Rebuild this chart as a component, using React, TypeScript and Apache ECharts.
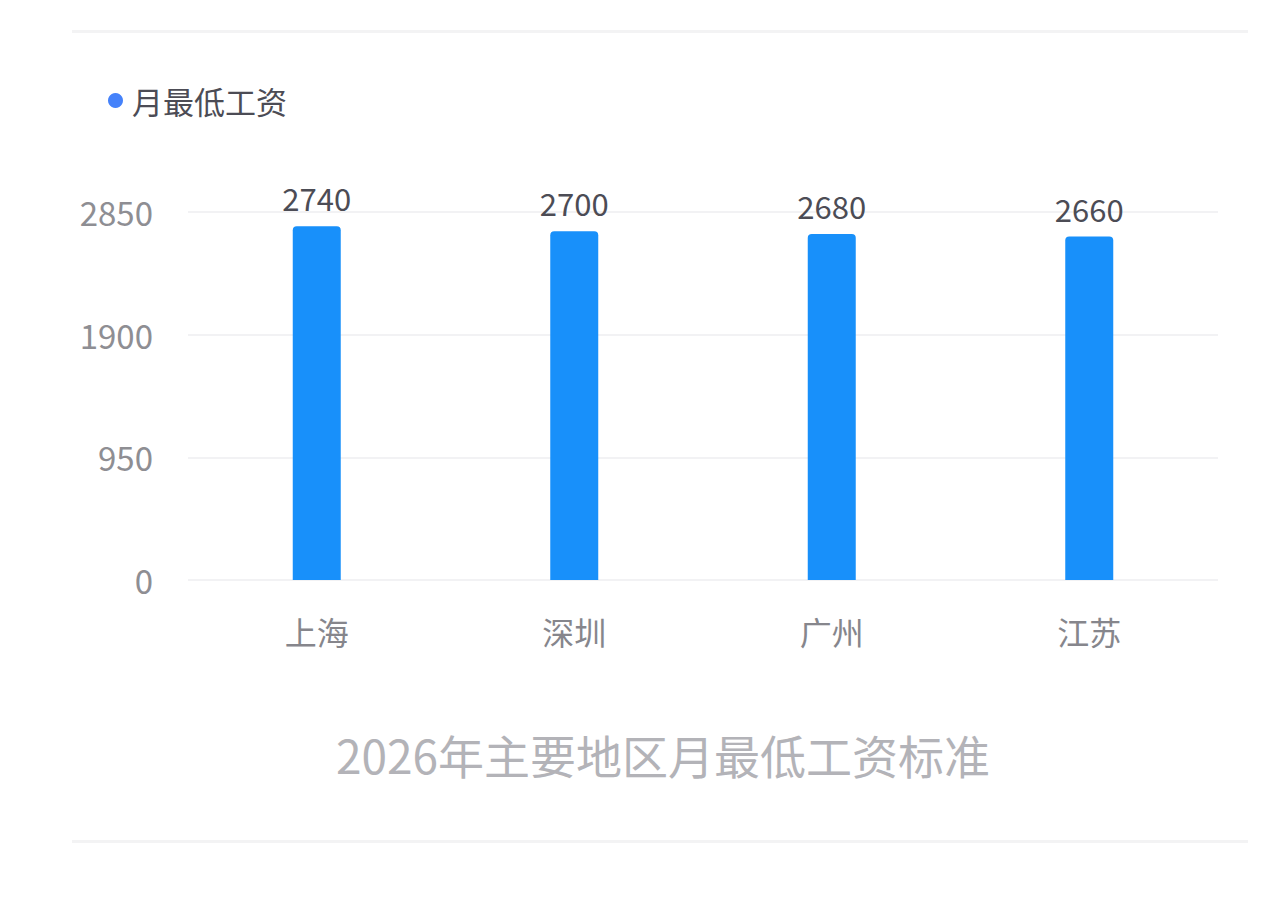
import React, {useRef, useEffect} from 'react';
import * as echarts from 'echarts';

const regions = ['上海', '深圳', '广州', '江苏'];
const wages = [2740, 2700, 2680, 2660];
const seriesName = '月最低工资';
const chartTitle = '2026年主要地区月最低工资标准';
const yMax = 2850;
const yStep = 950;

const FONT = '"Noto Sans CJK SC", "Noto Sans", sans-serif';

const App = () => {
    const ref = useRef<HTMLDivElement>(null);

    useEffect(() => {
        const chart = echarts.init(ref.current as HTMLDivElement, undefined, {renderer: 'svg'});
        chart.setOption({
            animation: false,
            textStyle: {fontFamily: FONT},
            title: {
                text: chartTitle,
                left: 331,
                top: 726,
                textStyle: {fontSize: 46, fontWeight: 'normal', color: '#b3b3b8', fontFamily: FONT}
            },
            legend: {
                left: 103,
                top: 80,
                icon: 'circle',
                itemWidth: 15,
                itemHeight: 15,
                textStyle: {fontSize: 31, color: '#4c4c55', padding: [0, 0, 0, 4]},
                data: [{name: seriesName, itemStyle: {color: '#4582fa'}}]
            },
            grid: {left: 188, right: 61, top: 212, bottom: 325, containLabel: false},
            xAxis: {
                type: 'category',
                data: regions,
                axisLine: {show: false},
                axisTick: {show: false},
                axisLabel: {fontSize: 32, color: '#86868c', margin: 35}
            },
            yAxis: {
                type: 'value',
                min: 0,
                max: yMax,
                interval: yStep,
                axisLine: {show: false},
                axisTick: {show: false},
                axisLabel: {
                    fontSize: 33,
                    color: '#8e8e93',
                    margin: 35,
                    padding: [0, 0, 10, 0],
                    formatter: (v: number) => String(v)
                },
                splitLine: {lineStyle: {color: '#f2f2f4', width: 2}}
            },
            series: [
                {
                    name: seriesName,
                    type: 'bar',
                    data: wages,
                    barWidth: 48,
                    itemStyle: {color: '#1890fa', borderRadius: [4, 4, 0, 0]},
                    label: {
                        show: true,
                        position: 'top',
                        distance: 13,
                        fontSize: 31,
                        color: '#4c4c55'
                    }
                }
            ],
            graphic: [
                {type: 'rect', shape: {x: 72, y: 30, width: 1176, height: 3}, style: {fill: '#f3f3f4'}},
                {type: 'rect', shape: {x: 72, y: 840, width: 1176, height: 3}, style: {fill: '#f3f3f4'}}
            ]
        });
        return () => chart.dispose();
    }, []);

    return (
        <div
            ref={ref}
            style={{position: 'fixed', left: 0, top: 0, width: 1279, height: 905, background: '#fff'}}
        ></div>
    );
};

export default App;
